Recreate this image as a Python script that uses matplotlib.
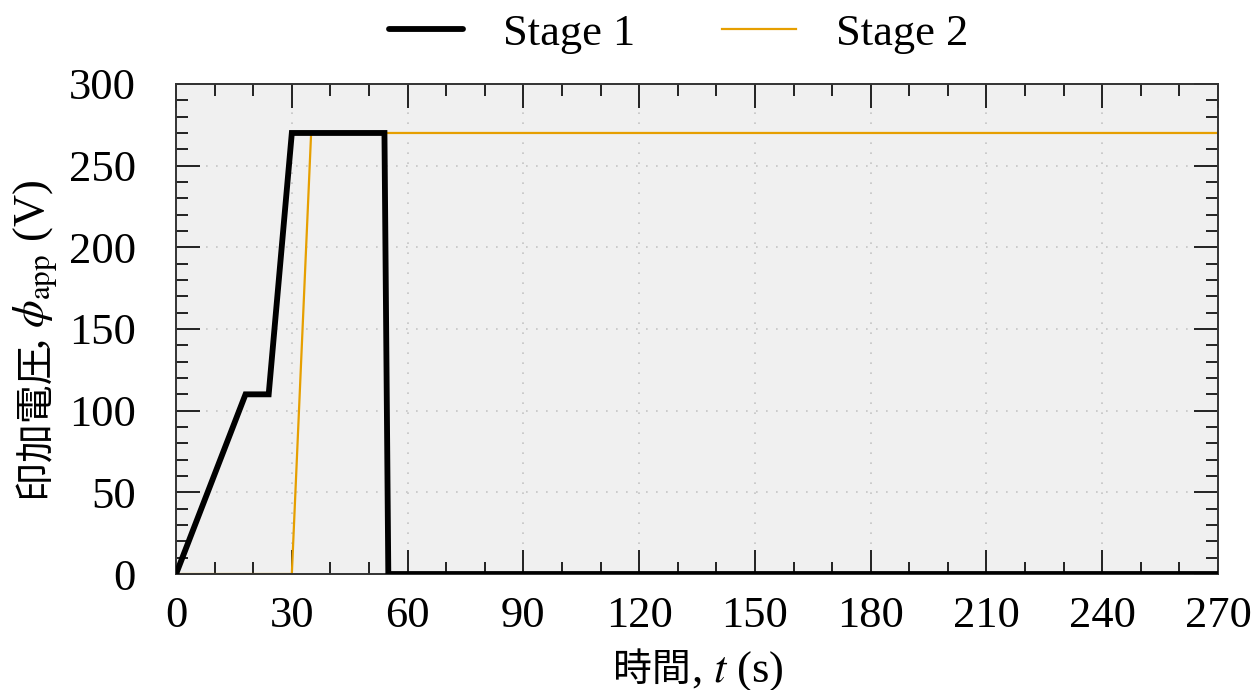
import matplotlib
matplotlib.use('Agg')
import matplotlib.pyplot as plt
from matplotlib.ticker import MultipleLocator

plt.rcParams['font.family'] = ['Liberation Serif', 'Noto Sans CJK JP']
plt.rcParams['mathtext.fontset'] = 'stix'
plt.rcParams['font.size'] = 32

# applied voltage schedule for each stage
t_stage1 = [0, 18, 24, 30, 54, 55, 270]
v_stage1 = [0, 110, 110, 270, 270, 0, 0]
t_stage2 = [0, 30, 35, 270]
v_stage2 = [0, 0, 270, 270]

# axis labels are split: CJK part in a sans font, the rest in mathtext
xlabel_parts = ['時間', ', $t$ (s)']
ylabel_parts = ['印加電圧', ', $\\phi_{\\mathrm{app}}$ (V)']

fig, ax = plt.subplots(figsize=(12.54, 6.9), dpi=100)
fig.subplots_adjust(left=0.1404, right=0.9713, top=0.8783, bottom=0.1681)

ax.set_facecolor('#f0f0f0')
ax.plot(t_stage1, v_stage1, color='black', lw=4.2, label='Stage 1',
        solid_capstyle='round', solid_joinstyle='miter', zorder=3)
ax.plot(t_stage2, v_stage2, color='#E69F00', lw=1.6, label='Stage 2', zorder=2)

ax.set_xlim(0, 270)
ax.set_ylim(0, 300)
ax.xaxis.set_major_locator(MultipleLocator(30))
ax.xaxis.set_minor_locator(MultipleLocator(10))
ax.yaxis.set_major_locator(MultipleLocator(50))
ax.yaxis.set_minor_locator(MultipleLocator(10))
ax.tick_params(which='both', direction='in', top=True, right=True,
               width=1.4, color='#222222')
ax.tick_params(which='major', length=17)
ax.tick_params(which='minor', length=8.5)
ax.tick_params(axis='x', which='major', pad=16)
ax.tick_params(axis='y', which='major', pad=29)
ax.grid(True, which='major', color='#c4c4c4', linestyle=(0, (1, 5)), linewidth=1.2)
for s in ax.spines.values():
    s.set_linewidth(1.4)
    s.set_color('#333333')

fig.legend(loc='center', bbox_to_anchor=(0.541, 0.951), ncol=2, frameon=False,
           handlelength=1.67, columnspacing=1.95, handletextpad=0.9,
           borderaxespad=0, borderpad=0)


def chain_text(parts, x, y, rotation, tighten=0):
    # lay the pieces end to end along the baseline, centred on (x, y)
    texts = []
    for i, p in enumerate(parts):
        kw = dict(family=['Noto Sans CJK JP'], fontsize=28) if i == 0 else {}
        texts.append(fig.text(0, 0, p, ha='left', va='baseline',
                              rotation_mode='anchor', **kw))
    fig.canvas.draw()
    r = fig.canvas.get_renderer()
    sizes = [t.get_window_extent(r).width - tighten for t in texts]
    W, H = fig.bbox.width, fig.bbox.height
    total = sum(sizes)
    if rotation == 0:
        pos = x * W - total / 2
        for t, s in zip(texts, sizes):
            t.set_position((pos / W, y))
            pos += s
    else:
        pos = y * H - total / 2
        for t, s in zip(texts, sizes):
            t.set_rotation(rotation)
            t.set_position((x, pos / H))
            pos += s


chain_text(xlabel_parts, 0.557, 0.013, 0)
chain_text(ylabel_parts, 0.036, 0.504, 90, tighten=8)

fig.savefig('out.png', dpi=100)
